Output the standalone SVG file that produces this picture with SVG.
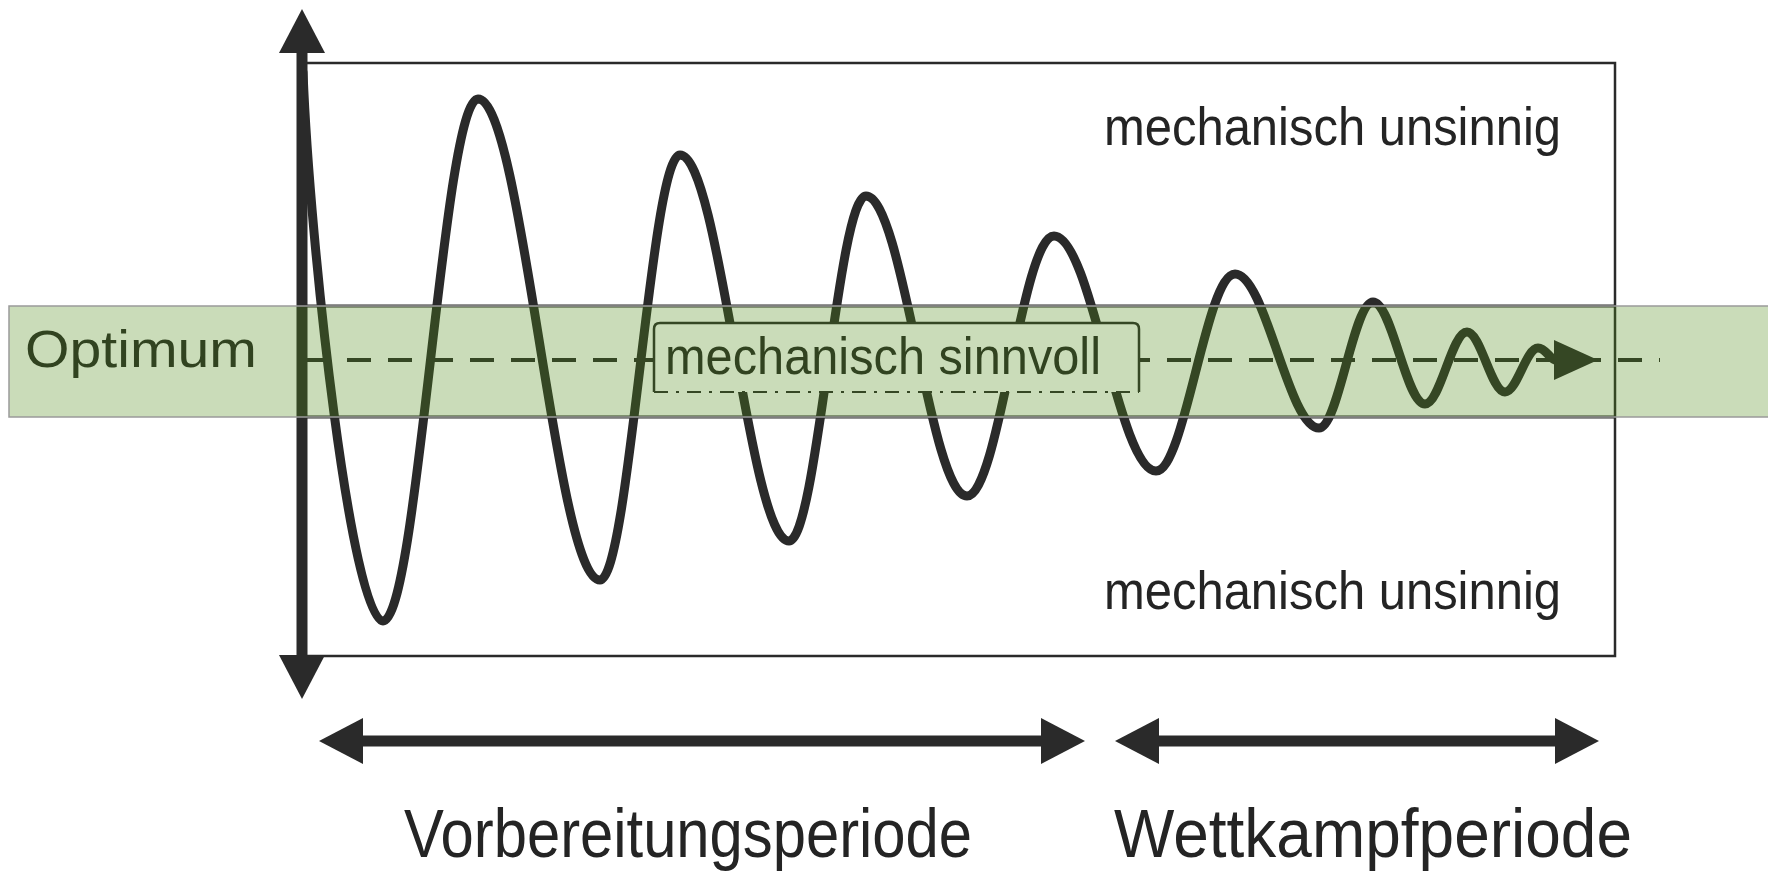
<svg xmlns="http://www.w3.org/2000/svg" width="1768" height="877" viewBox="0 0 1768 877">
<style>
.lbl{font-family:"Liberation Sans",Arial,sans-serif;fill:#242424}
.frame{fill:none;stroke:#2a2a2a;stroke-width:2.5}
.thick{stroke:#2a2a2a;stroke-width:11;fill:none}
.wave{fill:none;stroke:#2a2a2a;stroke-width:9;stroke-linecap:round;stroke-linejoin:round}
.dash{stroke:#2a2a2a;stroke-width:4;stroke-dasharray:24 17;fill:none}
</style>
<defs>
<marker id="ah" markerUnits="userSpaceOnUse" markerWidth="50" markerHeight="50" viewBox="0 -25 50 50" refX="3" refY="0" orient="auto-start-reverse">
<path d="M0,-23 L44,0 L0,23 z" fill="#2a2a2a"/>
</marker>
<marker id="ahs" markerUnits="userSpaceOnUse" markerWidth="50" markerHeight="50" viewBox="0 -25 50 50" refX="2" refY="0" orient="auto">
<path d="M0,-20 L44,0 L0,20 z" fill="#2a2a2a"/>
</marker>
</defs>
<rect width="1768" height="877" fill="#ffffff"/>

<g id="chart-frame">
<rect class="frame" x="302" y="63" width="1313" height="593"/>
<line x1="302" y1="306" x2="1615" y2="306" stroke="#2a2a2a" stroke-width="3"/>
<line x1="302" y1="417" x2="1615" y2="417" stroke="#2a2a2a" stroke-width="3"/>
</g>

<g id="optimum-line">
<line class="dash" x1="306" y1="360" x2="1660" y2="360"/>
</g>

<g id="wave">
<path class="wave" marker-end="url(#ahs)" d="M303,72 C310,250 352,621 383,621 C417.6,621 443.4,99 478,99 C522.4,99 555.6,580 600,580 C629.1,580 650.9,155 680,155 C719.7,155 749.3,541 789,541 C817,541 838,196 866,196 C902.8,196 930.2,496 967,496 C998.7,496 1022.3,236 1054,236 C1091.1,236 1118.9,471 1156,471 C1184.8,471 1206.2,274 1235,274 C1265.6,274 1288.4,428 1319,428 C1338.7,428 1353.3,302 1373,302 C1391.9,302 1406.1,404 1425,404 C1440.3,404 1451.7,332 1467,332 C1480.8,332 1491.2,392 1505,392 C1517,392 1526,348 1538,348 C1546,348 1550,360 1556,360"/>
</g>

<g id="label-sinnvoll">
<path d="M654,392 V329 Q654,323 660,323 H1133 Q1139,323 1139,329 V392" fill="#ffffff" stroke="#2a2a2a" stroke-width="2.5"/>
<line x1="654" y1="392" x2="1139" y2="392" stroke="#2a2a2a" stroke-width="2" stroke-dasharray="14 8 3 8"/>
<text class="lbl" x="665" y="374" font-size="52" textLength="436" lengthAdjust="spacingAndGlyphs">mechanisch sinnvoll</text>
</g>

<g id="label-optimum">
<text class="lbl" x="25" y="367" font-size="52" textLength="232" lengthAdjust="spacingAndGlyphs">Optimum</text>
</g>

<g id="label-unsinnig-top">
<text class="lbl" x="1104" y="145" font-size="54" textLength="457" lengthAdjust="spacingAndGlyphs">mechanisch unsinnig</text>
</g>
<g id="label-unsinnig-bottom">
<text class="lbl" x="1104" y="609" font-size="54" textLength="457" lengthAdjust="spacingAndGlyphs">mechanisch unsinnig</text>
</g>

<g id="label-vorbereitung">
<text class="lbl" x="404" y="857" font-size="68" textLength="568" lengthAdjust="spacingAndGlyphs">Vorbereitungsperiode</text>
</g>
<g id="label-wettkampf">
<text class="lbl" x="1114" y="857" font-size="68" textLength="518" lengthAdjust="spacingAndGlyphs">Wettkampfperiode</text>
</g>

<g id="connectors">
<line class="thick" x1="302" y1="50" x2="302" y2="658" marker-start="url(#ah)" marker-end="url(#ah)"/>
<line class="thick" x1="360" y1="741" x2="1044" y2="741" marker-start="url(#ah)" marker-end="url(#ah)"/>
<line class="thick" x1="1156" y1="741" x2="1558" y2="741" marker-start="url(#ah)" marker-end="url(#ah)"/>
</g>

<g id="optimum-band">
<rect x="9" y="306" width="1770" height="111" fill="#4e8a16" fill-opacity="0.3" stroke="#9a9a9a" stroke-width="1.5"/>
</g>
</svg>
